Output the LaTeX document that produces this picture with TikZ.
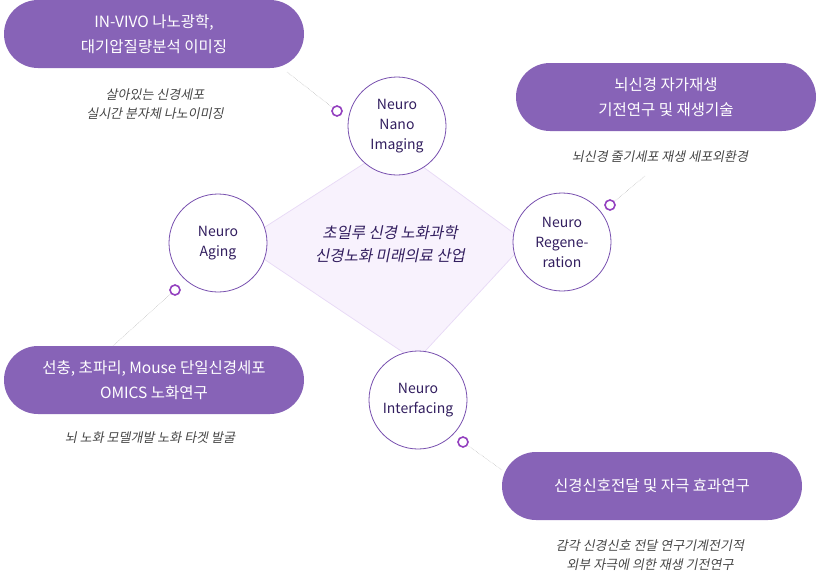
\documentclass[tikz,border=0pt]{standalone}
\usepackage{fontspec}
\setmainfont{Noto Sans CJK KR}
\newfontfamily\slantfont[FakeSlant=0.2]{Noto Sans CJK KR}
\definecolor{pillpurple}{RGB}{135,99,183}
\definecolor{ringpurple}{RGB}{120,80,175}
\definecolor{darkpurple}{RGB}{50,30,95}
\definecolor{notegray}{RGB}{70,70,70}
\tikzset{every picture/.style={line width=0.75pt}}
\tikzset{
	topic/.style={circle, draw=ringpurple, line width=0.8pt, fill=white, minimum size=98pt, inner sep=0pt, align=center, text=darkpurple, font=\fontsize{14}{20}\selectfont},
	pill/.style={rounded corners=34pt, fill=pillpurple, minimum height=68pt, minimum width=300pt, text=white, align=center, font=\fontsize{15.5}{25}\selectfont},
	note/.style={align=center, text=notegray, font=\slantfont\fontsize{13}{19}\selectfont},
	knob/.style={circle, draw=ringpurple!80!magenta, line width=1.6pt, fill=white, minimum size=10pt, inner sep=0pt},
	leader/.style={draw=gray!60, line width=0.5pt, densely dotted}
}
\begin{document}
\begin{tikzpicture}[x=1pt,y=1pt,yscale=-1,xscale=1]
	\useasboundingbox (0,0) rectangle (819,573);
	
	% centre diamond
	\coordinate (dtop) at (393,145);
	\coordinate (dleft) at (240,243);
	\coordinate (dright) at (526,242);
	\coordinate (dbottom) at (416,361);
	\draw [draw={rgb,255:red,232;green,218;blue,246}, fill={rgb,255:red,248;green,242;blue,253}] (dtop) -- (dright) -- (dbottom) -- (dleft) -- cycle;
	\node (core) [align=center, text=darkpurple, font=\slantfont\fontsize{15.5}{23}\selectfont] at (390,244) {초일루 신경 노화과학\\신경노화 미래의료 산업};
	
	% topic circles
	\node (nano) [topic] at (397,126) {Neuro\\Nano\\Imaging};
	\node (aging) [topic] at (218,243) {Neuro\\Aging};
	\node (regen) [topic] at (562,242) {Neuro\\Regene-\\ration};
	\node (inter) [topic] at (418,400) {Neuro\\Interfacing};
	
	% pills
	\node (pnano) [pill] at (154,34) {IN-VIVO 나노광학,\\대기압질량분석 이미징};
	\node (pregen) [pill] at (666,97) {뇌신경 자가재생\\기전연구 및 재생기술};
	\node (paging) [pill] at (154,380) {선충, 초파리, Mouse 단일신경세포\\OMICS 노화연구};
	\node (pinter) [pill] at (652,486) {신경신호전달 및 자극 효과연구};
	
	% leaders and knobs
	\coordinate (lnano) at (287,72);
	\coordinate (lregen) at (645,176);
	\coordinate (laging) at (113,346);
	\coordinate (linter) at (502,470);
	\node (knano) [knob] at (337,111) {};
	\node (kregen) [knob] at (610,205) {};
	\node (kaging) [knob] at (175,290) {};
	\node (kinter) [knob] at (463,442) {};
	\draw [leader] (lnano) -- (knano);
	\draw [leader] (lregen) -- (kregen);
	\draw [leader] (laging) -- (kaging);
	\draw [leader] (linter) -- (kinter);
	
	% notes
	\node (nnano) [note] at (155,104) {살아있는 신경세포\\실시간 분자체 나노이미징};
	\node (nregen) [note] at (660,157) {뇌신경 줄기세포 재생 세포외환경};
	\node (naging) [note] at (150,438) {뇌 노화 모델개발 노화 타겟 발굴};
	\node (ninter) [note] at (650,555) {감각 신경신호 전달 연구기계전기적\\외부 자극에 의한 재생 기전연구};
	
\end{tikzpicture}
\end{document}
